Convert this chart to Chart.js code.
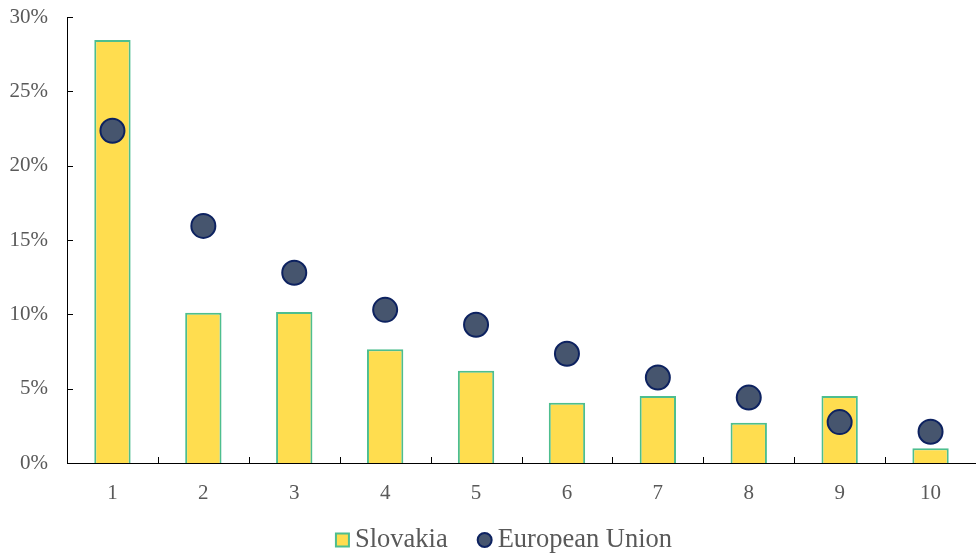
<!DOCTYPE html>
<html>
<head>
<meta charset="utf-8">
<script src="https://cdn.jsdelivr.net/npm/chart.js@4"></script>
<style>
html,body{margin:0;padding:0;background:#fff;}
#wrap{width:976px;height:556px;}
</style>
</head>
<body>
<div id="wrap"><canvas id="c" width="976" height="556"></canvas></div>
<script>
const categories = ['1','2','3','4','5','6','7','8','9','10'];
const slovakia = [28.45, 10.1, 10.15, 7.65, 6.2, 4.05, 4.5, 2.7, 4.5, 1.0];
const europeanUnion = [22.35, 15.95, 12.8, 10.3, 9.3, 7.35, 5.75, 4.4, 2.75, 2.1];
const yTicks = [0, 5, 10, 15, 20, 25, 30];
const seriesNames = ['Slovakia', 'European Union'];

const FONT = 'Liberation Serif';
const GREY = '#595959';
const BAR_FILL = '#FFDD4F', BAR_EDGE = '#4DBE8F';
const DOT_FILL = '#46556E', DOT_EDGE = '#0D2260';
Chart.defaults.font.family = FONT;

const innerTicks = {
  id: 'innerTicks',
  afterDatasetsDraw(chart) {
    const ctx = chart.ctx;
    const x = chart.scales.x, y = chart.scales.y;
    const left = chart.chartArea.left, bottom = chart.chartArea.bottom;
    ctx.save();
    ctx.strokeStyle = '#000';
    ctx.lineWidth = 1;
    ctx.beginPath();
    yTicks.forEach(v => {
      const py = Math.round(y.getPixelForValue(v)) + 0.5;
      ctx.moveTo(left, py); ctx.lineTo(left + 6, py);
    });
    for (let i = 1; i < categories.length; i++) {
      const px = Math.round((x.getPixelForValue(i - 1) + x.getPixelForValue(i)) / 2) + 0.5;
      ctx.moveTo(px, bottom); ctx.lineTo(px, bottom - 6);
    }
    ctx.stroke();
    ctx.restore();
  }
};

const customLegend = {
  id: 'customLegend',
  afterDraw(chart) {
    const ctx = chart.ctx;
    ctx.save();
    ctx.font = '26.5px ' + FONT;
    ctx.fillStyle = GREY;
    ctx.textBaseline = 'middle';
    const w1 = ctx.measureText(seriesNames[0]).width;
    const w2 = ctx.measureText(seriesNames[1]).width;
    const box = 13, gapT = 6, gapItems = 30, circ = 14;
    const total = box + gapT + w1 + gapItems + circ + gapT + w2;
    let x0 = 504 - total / 2;
    const cy = 540;
    ctx.fillStyle = BAR_FILL;
    ctx.strokeStyle = BAR_EDGE;
    ctx.lineWidth = 2;
    ctx.fillRect(x0, cy - box / 2, box, box);
    ctx.strokeRect(x0, cy - box / 2, box, box);
    ctx.fillStyle = GREY;
    ctx.fillText(seriesNames[0], x0 + box + gapT, cy);
    let x1 = x0 + box + gapT + w1 + gapItems;
    ctx.beginPath();
    ctx.arc(x1 + circ / 2, cy, circ / 2, 0, Math.PI * 2);
    ctx.fillStyle = DOT_FILL;
    ctx.fill();
    ctx.strokeStyle = DOT_EDGE;
    ctx.stroke();
    ctx.fillStyle = GREY;
    ctx.fillText(seriesNames[1], x1 + circ + gapT, cy);
    ctx.restore();
  }
};

new Chart(document.getElementById('c'), {
  data: {
    labels: categories,
    datasets: [
      {
        type: 'scatter',
        label: seriesNames[1],
        data: europeanUnion.map((v, i) => ({x: categories[i], y: v})),
        backgroundColor: DOT_FILL,
        borderColor: DOT_EDGE,
        borderWidth: 2,
        pointRadius: 12,
        pointHoverRadius: 12,
        order: 0
      },
      {
        type: 'bar',
        label: seriesNames[0],
        data: slovakia,
        backgroundColor: BAR_FILL,
        borderColor: BAR_EDGE,
        borderWidth: 2,
        barPercentage: 0.4,
        categoryPercentage: 1.0,
        order: 1
      }
    ]
  },
  options: {
    responsive: false,
    animation: false,
    events: [],
    layout: {autoPadding: false, padding: {left: 0, right: 0, top: 17, bottom: 33}},
    scales: {
      x: {
        type: 'category',
        offset: true,
        grid: {display: false, drawTicks: false},
        border: {display: true, color: '#000', width: 1},
        ticks: {color: GREY, font: {family: FONT, size: 21}, padding: 18},
        afterFit(s) { s.height = 60; s.paddingLeft = 0; s.paddingRight = 0; }
      },
      y: {
        min: 0, max: 30,
        afterBuildTicks(s) { s.ticks = yTicks.map(v => ({value: v})); },
        grid: {display: false, drawTicks: false},
        border: {display: true, color: '#000', width: 1},
        ticks: {color: GREY, font: {family: FONT, size: 21}, padding: 19,
          callback: v => v + '%'},
        afterFit(s) { s.width = 67; s.paddingTop = 0; s.paddingBottom = 0; }
      }
    },
    plugins: {
      legend: {display: false},
      tooltip: {enabled: false}
    }
  },
  plugins: [innerTicks, customLegend]
});
</script>
</body>
</html>
